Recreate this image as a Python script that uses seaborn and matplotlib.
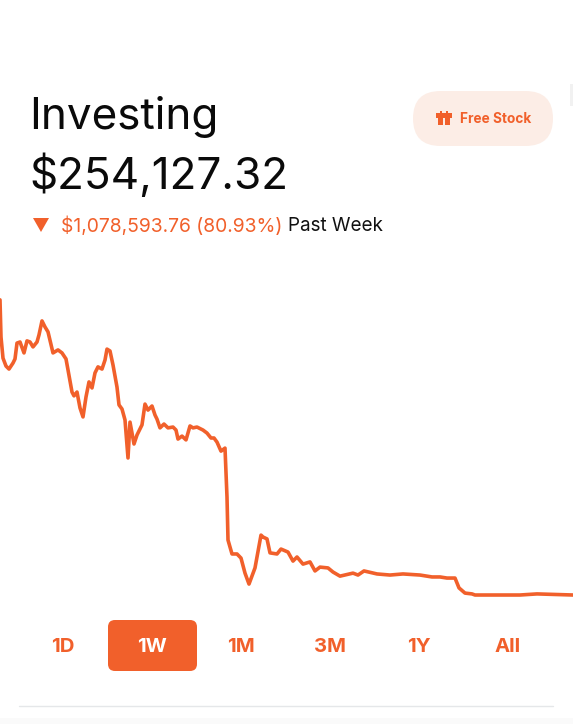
import numpy as np
import pandas as pd
import seaborn as sns
import matplotlib
matplotlib.use("Agg")
import matplotlib.pyplot as plt
from matplotlib.patches import FancyBboxPatch, Polygon, Rectangle

# week timeline (arbitrary ticks, left to right)
elapsed = [0,1,3,6,9,13,15,17,20,24,27,30,33,37,39,42,45,48,53,58,62,66,68,72,74,77,80,83,86,89,
           92,95,98,102,105,107,110,113,117,119,122,125,128,130,134,137,142,145,148,152,155,157,160,164,168,173,176,178,182,186,
           190,193,197,203,207,211,214,217,221,225,227,228,232,237,241,245,249,255,261,263,267,270,277,281,288,293,297,303,310,315,
           320,328,333,340,353,358,364,377,390,403,420,432,440,447,455,459,465,472,475,500,520,537,573]
# portfolio value in thousands of dollars
value_k = [1333,1197,1120,1091,1080,1102,1117,1175,1179,1139,1183,1179,1161,1179,1205,1256,1234,1216,1139,1150,1139,1117,1077,996,982,996,938,905,978,1033,
           1011,1066,1088,1080,1113,1153,1146,1095,1014,949,934,894,755,886,806,839,876,952,930,945,912,897,865,879,865,868,857,824,835,821,
           872,865,868,857,846,828,828,813,780,791,612,455,404,404,389,334,294,353,473,466,459,408,404,422,411,378,393,367,375,342,
           356,353,338,323,334,327,342,331,327,331,327,320,320,316,316,280,261,258,254,254,254,258,254]
ranges = ["1D", "1W", "1M", "3M", "1Y", "All"]
range_x = [63, 152, 241, 330, 419, 508]
active_range = "1W"
title = "Investing"
balance = "$254,127.32"
change = "$1,078,593.76 (80.93%)"
period = "Past Week"
button = "Free Stock"

ORANGE = "#F1602B"
W, H = 573, 724
sns.set_theme(style="white")
plt.rcParams["font.family"] = ["Inter", "DejaVu Sans"]
fig = plt.figure(figsize=(W / 100, H / 100), dpi=100, facecolor="white")

# chart axes: pixel rows 280..610
ax = fig.add_axes([0, 1 - 610 / H, 1, 330 / H])
df = pd.DataFrame({"t": elapsed, "v": value_k})
sns.lineplot(data=df, x="t", y="v", ax=ax, color=ORANGE, lw=2.6, estimator=None, sort=False,
             solid_joinstyle="round", solid_capstyle="round")
ax.set_xlim(0, W)
ax.set_ylim(199.2, 1405.6)
ax.axis("off")
ax.patch.set_alpha(0)

# overlay in pixel coordinates for the interface chrome
ui = fig.add_axes([0, 0, 1, 1], zorder=-1)
ui.set_xlim(0, W)
ui.set_ylim(H, 0)
ui.axis("off")

ui.add_patch(Rectangle((0, 718), W, 6, fc="#FAFAFA", ec="none"))
ui.add_patch(Rectangle((570, 84), 3, 22, fc="#F1F1F1", ec="none"))
ui.plot([19, 553], [705.5, 705.5], color="#E5E7E9", lw=1)

ui.text(29, 117, title, fontsize=31.7, color="#0A0A0A", va="center", ha="left")
ui.text(29.5, 176, balance, fontsize=31.7, color="#0A0A0A", va="center", ha="left")

ui.add_patch(Polygon([[33, 218], [49, 218], [41, 232]], closed=True, fc=ORANGE, ec="none"))
ui.text(61, 226, change, fontsize=13.9, color=ORANGE, va="center", ha="left")
ui.text(288.5, 226, period, fontsize=13.6, color="#111111", va="center", ha="left")

# Free Stock pill
ui.add_patch(FancyBboxPatch((413, 91), 140, 55, boxstyle="round,pad=0,rounding_size=27.5",
                            fc="#FCEDE6", ec="none"))
ui.add_patch(Rectangle((436, 113), 16, 4.5, fc=ORANGE, ec="none"))
ui.add_patch(Rectangle((438, 118), 5.2, 7, fc=ORANGE, ec="none"))
ui.add_patch(Rectangle((445, 118), 5.2, 7, fc=ORANGE, ec="none"))
ui.add_patch(Rectangle((439.5, 110.5), 2.2, 2.5, fc=ORANGE, ec="none"))
ui.add_patch(Rectangle((446, 110.5), 2.2, 2.5, fc=ORANGE, ec="none"))
ui.text(460, 119, button, fontsize=9.8, fontweight="bold", color=ORANGE, va="center", ha="left")

# range selector
ui.add_patch(FancyBboxPatch((108, 620), 89, 51, boxstyle="round,pad=0,rounding_size=7",
                            fc=ORANGE, ec="none"))
for lab, x in zip(ranges, range_x):
    ui.text(x, 646.5, lab, fontsize=14.6, fontweight="bold", ha="center", va="center",
            color="white" if lab == active_range else ORANGE)

fig.savefig("out.png", dpi=100, facecolor="white")
